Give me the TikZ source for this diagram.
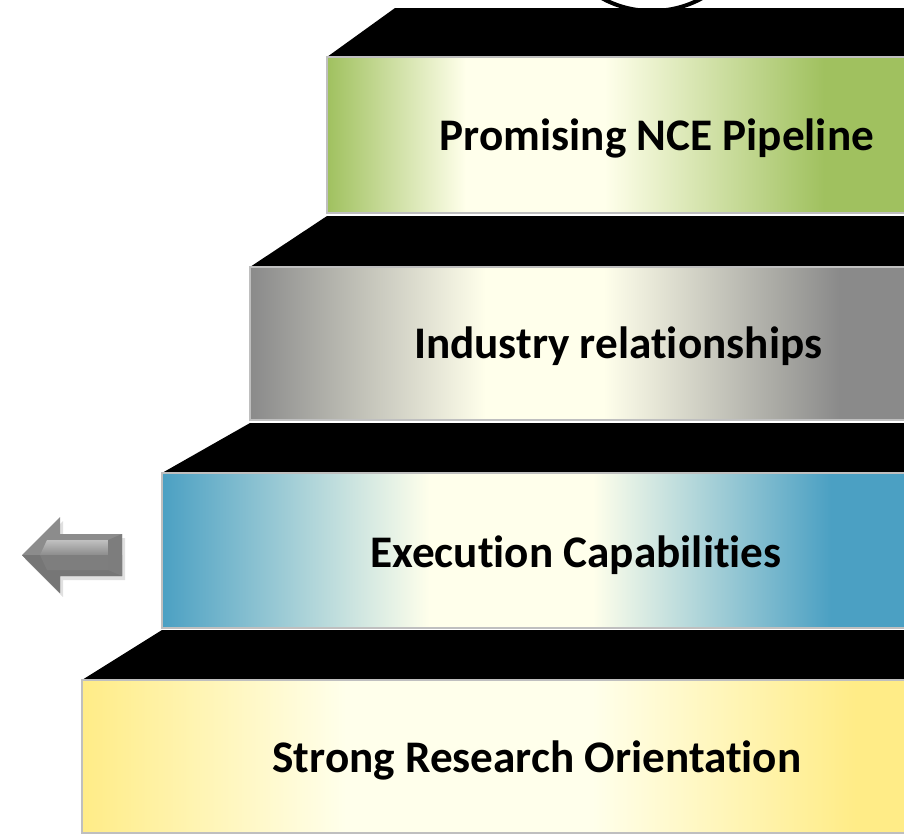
\documentclass[tikz,border=0pt]{standalone}
\usepackage{fontspec}
\setmainfont{Carlito}[Ligatures=NoCommon]
\definecolor{stepgreen}{RGB}{160,193,95}
\definecolor{stepgray}{RGB}{138,138,138}
\definecolor{stepblue}{RGB}{75,160,195}
\definecolor{stepyellow}{RGB}{255,236,135}
\definecolor{stepglow}{RGB}{255,255,235}
\definecolor{arrowlight}{RGB}{192,192,192}
\definecolor{arrowmid}{RGB}{140,140,140}
\definecolor{arrowdark}{RGB}{118,118,118}
\newcommand\stepshading[5]{%
  \pgfdeclarehorizontalshading{#1}{100bp}{color(0bp)=(#2); color(25bp)=(#2);
    color(#3)=(stepglow); color(#4)=(stepglow); color(#5)=(#2); color(100bp)=(#2)}}
\stepshading{shadegreen}{stepgreen}{37bp}{49bp}{68bp}
\stepshading{shadegray}{stepgray}{43bp}{52bp}{70bp}
\stepshading{shadeblue}{stepblue}{43bp}{54bp}{70bp}
\stepshading{shadeyellow}{stepyellow}{41bp}{56bp}{72bp}
\tikzset{
  steptop/.style={fill=black},
  stepface/.style={draw=black!25, line width=0.6pt},
  steplabel/.style={anchor=center, font=\fontsize{22.6}{27}\selectfont\bfseries}
}

\begin{document}
\begin{tikzpicture}[x=0.5pt, y=-0.5pt]
      \clip (0,0) rectangle (904,836);
      % ring behind the top step
      \draw[line width=2pt] (652,-93) circle[radius=52pt];
      % step 1
      \fill[steptop] (395,8) -- (904,8) -- (904,57) -- (327,57) -- cycle;
      \shade[stepface, shading=shadegreen] (327,57) rectangle (905,213);
      \node[steplabel] (pipeline) at (657,138) {Promising NCE Pipeline};
      % step 2
      \fill[steptop] (327,216) -- (904,216) -- (904,267) -- (250,267) -- cycle;
      \shade[stepface, shading=shadegray] (250,267) rectangle (905,420);
      \node[steplabel] (industry) at (618,346) {Industry relationships};
      % step 3
      \fill[steptop] (250,423) -- (904,423) -- (904,473) -- (162,473) -- cycle;
      \shade[stepface, shading=shadeblue] (162,473) rectangle (905,628);
      \node[steplabel] (execution) at (576,555) {Execution Capabilities};
      % step 4
      \fill[steptop] (162,630) -- (904,630) -- (904,680) -- (82,680) -- cycle;
      \shade[stepface, shading=shadeyellow] (82,680) rectangle (905,833);
      \node[steplabel] (research) at (537,760) {Strong Research Orientation};
      % arrow
      \fill[black, opacity=0.12] (25,559) -- (63,521) -- (63,538) -- (125,538) -- (125,580) -- (63,580) -- (63,597) -- cycle;
      \fill[arrowmid] (22,555) -- (60,517) -- (60,534) -- (122,534) -- (122,576) -- (60,576) -- (60,593) -- cycle;
      \fill[arrowdark] (22,555) -- (122,555) -- (122,576) -- (60,576) -- (60,593) -- cycle;
      \shade[top color=arrowlight, bottom color=arrowmid] (47,540) -- (108,540) -- (108,555) -- (40,555) -- cycle;
      \fill[arrowmid!90!black] (40,555) -- (108,555) -- (108,570) -- (47,570) -- cycle;
      \fill[arrowdark!95] (108,540) -- (122,534) -- (122,576) -- (108,570) -- cycle;
\end{tikzpicture}
\end{document}
